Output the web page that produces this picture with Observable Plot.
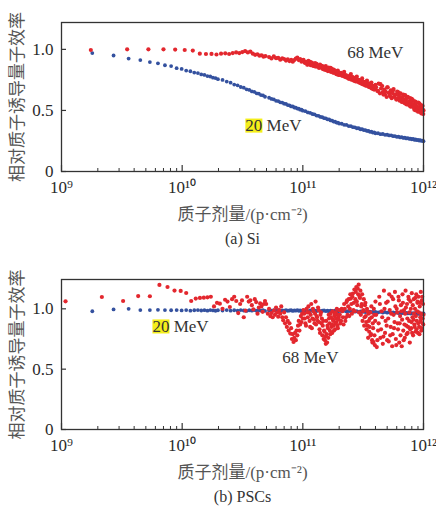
<!DOCTYPE html>
<html><head><meta charset="utf-8">
<script src="https://cdn.jsdelivr.net/npm/d3@7"></script>
<script src="https://cdn.jsdelivr.net/npm/@observablehq/plot@0.6"></script>
<style>
html,body{margin:0;padding:0;background:#fff;}
#chart{width:436px;height:510px;position:relative;overflow:hidden;background:#fff;}
#chart svg{display:block;}
</style></head><body><div id="chart"></div>
<script>
// ---- tick labels & texts ----
const xTicks = [1e9, 1e10, 1e11, 1e12];
const xTickLabels = ["10⁹", "10¹⁰", "10¹¹", "10¹²"];
const yTicks = [0, 0.5, 1];
const yTickLabels = ["0", "0.5", "1.0"];
const seriesNames = ["68 MeV", "20 MeV"];
const yTitle = "相对质子诱导量子效率";
const xTitle = "质子剂量/(p·cm⁻²)";
const captions = ["(a) Si", "(b) PSCs"];

// label anchors (dose, efficiency) for "68 MeV", "20 MeV"
const siLabelDose = [2.33e11, 3.34e10], siLabelEff = [0.971, 0.377];
const pscLabelDose = [6.75e10, 5.67e9], pscLabelEff = [0.598, 0.855];

// ---- doses (×1e9 p/cm²) ----
const denseDose = [52.5,55,57.5,60,62.5,65,67.5,70,72.5,75,77.5,80,82.5,85,87.5,90,92.5,95,97.5,100,
105,110,115,120,125,130,135,140,145,150,155,160,165,170,175,180,185,190,195,200,
210,220,230,240,250,260,270,280,290,300,310,320,330,340,350,360,370,380,390,400,
420,440,460,480,500,520,540,560,580,600,620,640,660,680,700,720,740,760,780,800,
820,840,860,880,900,920,940,960,980,1000];
const denseDose2 = [101.25,103.75,106.25,108.75,111.25,113.75,116.25,118.75,121.25,123.75,126.25,128.75,131.25,133.75,136.25,138.75,141.25,143.75,146.25,148.75,
151.25,153.75,156.25,158.75,161.25,163.75,166.25,168.75,171.25,173.75,176.25,178.75,181.25,183.75,186.25,188.75,191.25,193.75,196.25,198.75,
202.5,207.5,212.5,217.5,222.5,227.5,232.5,237.5,242.5,247.5,252.5,257.5,262.5,267.5,272.5,277.5,282.5,287.5,292.5,297.5,
302.5,307.5,312.5,317.5,322.5,327.5,332.5,337.5,342.5,347.5,352.5,357.5,362.5,367.5,372.5,377.5,382.5,387.5,392.5,397.5,
405,415,425,435,445,455,465,475,485,495,505,515,525,535,545,555,565,575,585,595,
605,615,625,635,645,655,665,675,685,695,705,715,725,735,745,755,765,775,785,795,
805,815,825,835,845,855,865,875,885,895,905,915,925,935,945,955,965,975,985,995];
const dose20 = [1.8,2.7,3.6,4.5,5.4,6.3,7.2,8.1,9,9.9,10.8,11.7,12.6,13.5,14.4,15.3,16.2,17.1,18,18.9,19.8,
21.6,23.4,25.2,27,28.8,30.6,32.4,34.2,36,37.8,39.6,41.4,43.2,45,46.8,48.6];
const doseSi68 = [1.75,3.5,5.25,7,8.75,10.5,12.25,14,15.75,17.5,19.25,21,22.75,24.5,26.25,28,29.75,31.5,33.25,35,
36.75,38.5,40.25,42,43.75,45.5,47.25,49];
const dosePsc68 = [1.08,2.16,3.24,4.32,5.4,6.48,7.56,8.64,9.72,10.8,11.88,12.96,14.04,15.12,16.2,17.28,18.36,19.44,
20.52,21.6,22.68,23.76,24.84,25.92,27,28.08,29.16,30.24,31.32,32.4,33.48,34.56,35.64,36.72,37.8,38.88,39.96,
41.04,42.12,43.2,44.28,45.36,46.44,47.52,48.6,49.68];
const dosePsc68Dense = [51.25,52.5,53.75,55,56.25,57.5,58.75,60,61.25,62.5,63.75,65,66.25,67.5,68.75,70,71.25,72.5,73.75,75,
76.25,77.5,78.75,80,81.25,82.5,83.75,85,86.25,87.5,88.75,90,91.25,92.5,93.75,95,96.25,97.5,98.75,100,
102.5,105,107.5,110,112.5,115,117.5,120,122.5,125,127.5,130,132.5,135,137.5,140,142.5,145,147.5,150,
152.5,155,157.5,160,162.5,165,167.5,170,172.5,175,177.5,180,182.5,185,187.5,190,192.5,195,197.5,200,
205,210,215,220,225,230,235,240,245,250,255,260,265,270,275,280,285,290,295,300,
305,310,315,320,325,330,335,340,345,350,355,360,365,370,375,380,385,390,395,400,
410,420,430,440,450,460,470,480,490,500,510,520,530,540,550,560,570,580,590,600,
610,620,630,640,650,660,670,680,690,700,710,720,730,740,750,760,770,780,790,800,
810,820,830,840,850,860,870,880,890,900,910,920,930,940,950,960,970,980,990,1000];

// ---- (a) Si ----
const si20 = [0.97,0.95,0.925,0.912,0.896,0.886,0.87,0.863,0.846,0.84,0.826,0.821,0.81,0.806,0.795,0.791,0.781,0.778,0.768,0.765,0.756,
0.75,0.736,0.727,0.712,0.706,0.692,0.686,0.673,0.668,0.656,0.652,0.64,0.637,0.626,0.623,0.612];
const si20Dense = [0.604,0.594,0.59,0.579,0.577,0.566,0.564,0.555,0.553,0.544,0.542,0.533,0.533,0.524,0.523,0.515,0.514,0.506,0.506,0.498,
0.494,0.484,0.48,0.471,0.467,0.458,0.456,0.447,0.445,0.437,0.435,0.427,0.426,0.418,0.417,0.409,0.408,0.401,0.4,0.393,
0.391,0.382,0.381,0.372,0.371,0.363,0.362,0.354,0.354,0.346,0.346,0.339,0.339,0.332,0.332,0.325,0.326,0.319,0.32,0.313,
0.313,0.306,0.307,0.3,0.301,0.295,0.296,0.289,0.29,0.284,0.285,0.279,0.281,0.275,0.277,0.271,0.273,0.268,0.269,0.264,
0.266,0.26,0.262,0.257,0.259,0.254,0.256,0.251,0.253,0.248];
const si68 = [0.995,1.0,1.0,1.0,0.998,0.995,0.99,0.965,0.962,0.963,0.958,0.965,0.968,0.962,0.97,0.975,0.97,0.978,0.985,0.975,
0.982,0.965,0.955,0.96,0.948,0.952,0.94,0.945];
const si68Dense = [0.937,0.926,0.942,0.928,0.93,0.916,0.927,0.921,0.908,0.918,0.904,0.915,0.899,0.912,0.924,0.932,0.912,0.921,0.899,0.91,
0.892,0.876,0.897,0.88,0.862,0.881,0.858,0.868,0.852,0.835,0.862,0.838,0.826,0.848,0.818,0.835,0.812,0.798,0.826,0.806,
0.79,0.815,0.772,0.76,0.798,0.77,0.742,0.778,0.75,0.728,0.762,0.735,0.705,0.745,0.722,0.695,0.728,0.70,0.672,0.71,
0.66,0.715,0.65,0.63,0.688,0.64,0.61,0.665,0.628,0.59,0.648,0.6,0.572,0.63,0.585,0.55,0.612,0.57,0.532,0.595,
0.548,0.505,0.57,0.52,0.49,0.558,0.505,0.475,0.54,0.50];
const si68Dense2 = [0.915,0.89,0.898,0.875,0.905,0.882,0.87,0.892,0.865,0.878,0.887,0.858,0.872,0.862,0.848,0.875,0.852,0.866,0.84,0.858,
0.835,0.852,0.83,0.845,0.822,0.85,0.826,0.838,0.815,0.84,0.82,0.808,0.83,0.812,0.822,0.8,0.818,0.795,0.812,0.79,
0.79,0.808,0.782,0.8,0.775,0.79,0.768,0.782,0.76,0.778,0.752,0.772,0.745,0.765,0.738,0.76,0.735,0.75,0.728,0.745,
0.722,0.74,0.715,0.735,0.71,0.728,0.705,0.722,0.7,0.718,0.692,0.712,0.688,0.705,0.68,0.702,0.675,0.698,0.672,0.69,
0.69,0.66,0.72,0.64,0.68,0.70,0.63,0.67,0.655,0.61,0.69,0.645,0.62,0.665,0.6,0.64,0.675,0.61,0.63,0.59,
0.655,0.6,0.625,0.58,0.64,0.6,0.57,0.615,0.59,0.56,0.625,0.575,0.6,0.55,0.605,0.57,0.54,0.6,0.555,0.575,
0.53,0.585,0.55,0.52,0.575,0.54,0.5,0.56,0.53,0.51,0.565,0.525,0.49,0.55,0.515,0.54,0.48,0.535,0.505,0.47];

// ---- (b) PSCs ----
const psc20 = [0.98,0.995,1.0,0.99,0.99,0.992,0.99,0.988,0.99,0.987,0.99,0.985,0.988,0.99,0.986,0.989,0.985,0.99,0.987,0.984,0.988,
0.986,0.99,0.985,0.988,0.984,0.99,0.986,0.983,0.988,0.985,0.99,0.984,0.987,0.985,0.988,0.983];
const psc20Dense = [0.987,0.984,0.989,0.985,0.988,0.983,0.987,0.985,0.99,0.984,0.986,0.988,0.983,0.987,0.985,0.989,0.984,0.986,0.982,0.987,
0.985,0.981,0.986,0.983,0.987,0.982,0.985,0.98,0.984,0.986,0.981,0.984,0.98,0.985,0.982,0.979,0.984,0.981,0.978,0.983,
0.979,0.984,0.978,0.982,0.977,0.981,0.976,0.98,0.975,0.979,0.974,0.978,0.973,0.977,0.972,0.976,0.971,0.975,0.97,0.974,
0.97,0.974,0.969,0.973,0.968,0.972,0.967,0.971,0.966,0.97,0.965,0.969,0.964,0.968,0.963,0.967,0.962,0.966,0.961,0.965,
0.96,0.964,0.959,0.963,0.958,0.962,0.957,0.961,0.96,0.962];
const psc68 = [1.062,1.098,1.065,1.106,1.104,1.198,1.181,1.151,1.148,1.131,1.065,1.085,1.09,1.092,1.095,1.1,1.02,1.05,
1.043,1.0,1.075,1.06,1.015,1.08,1.10,1.065,0.965,1.04,1.07,0.93,0.985,1.10,1.06,1.07,1.03,0.995,1.08,
1.056,0.96,1.01,1.045,1.02,0.975,1.04,1.065,1.04];
const psc68Dense = [0.96,1.0,0.94,0.965,0.93,0.985,0.95,1.01,0.97,0.935,0.99,0.96,1.02,0.93,0.905,0.97,0.88,0.93,0.85,0.9,
0.82,0.88,0.795,0.84,0.75,0.79,0.725,0.76,0.80,0.74,0.82,0.78,0.86,0.9,0.82,0.87,0.94,0.89,0.96,0.92,
0.96,0.88,1.0,0.93,0.97,0.85,1.04,0.92,0.98,0.88,1.06,0.94,0.90,0.99,0.83,0.95,0.88,0.78,0.9,0.82,
0.74,0.71,0.79,0.86,0.76,0.92,0.82,0.96,0.85,0.80,0.91,0.86,0.94,0.83,0.97,0.89,0.95,0.84,0.93,0.99,
0.88,1.0,0.93,1.04,0.9,1.056,0.95,1.08,1.0,1.085,0.96,1.126,1.05,0.98,1.14,1.06,1.168,1.2,1.1,1.15,
1.02,1.12,0.98,1.08,0.93,1.05,0.89,1.0,0.86,0.96,0.81,0.92,0.78,1.02,0.74,0.88,0.725,0.95,0.70,1.06,
0.683,0.82,1.1,0.76,0.98,0.71,1.15,0.8,1.05,0.74,0.92,1.12,0.78,0.96,0.69,1.08,0.84,1.14,0.75,1.0,
0.88,1.1,0.72,0.94,1.03,0.69,1.12,0.82,0.99,0.76,1.15,0.86,1.04,0.8,1.1,0.9,0.72,1.06,0.84,1.13,
0.93,0.78,1.08,0.87,1.0,0.81,1.12,0.9,1.05,0.8,1.1,0.85,1.02,0.93,1.14,0.82,1.07,0.88,1.04,0.95];
const psc68Dense2 = [0.99,0.92,0.86,0.97,1.02,0.9,0.95,0.84,1.0,0.91,0.96,0.87,0.93,1.01,0.89,0.8,0.97,0.92,0.86,0.75,
0.81,0.77,0.9,0.72,0.84,0.95,0.88,0.79,0.93,0.87,0.98,0.9,0.82,0.96,0.88,0.92,1.0,0.86,0.95,0.91,
0.95,0.9,0.98,0.87,1.0,0.93,1.07,1.02,0.94,1.12,1.04,1.1,0.99,1.16,1.08,1.18,1.03,1.12,0.97,1.09,
0.95,1.04,0.9,0.99,0.86,1.03,0.94,0.83,0.98,0.76,0.9,0.85,0.97,0.79,0.93,0.72,0.84,1.0,0.78,0.9,
0.95,0.74,0.88,1.04,0.83,0.93,0.77,1.0,0.9,0.86,1.06,0.73,0.99,0.85,1.1,0.79,0.95,0.89,1.02,0.7,
0.97,0.83,1.07,0.88,0.78,0.98,0.91,1.05,0.74,0.87,0.96,1.01,0.79,0.92,0.85,1.08,0.97,0.83,1.0,0.89,
0.8,1.03,0.91,0.96,0.85,1.09,0.94,0.83,0.98,1.06,0.88,0.97,0.79,1.05,0.9,0.96,0.84,1.1,0.92,0.87];

const RED = "#e3272e", BLUE = "#34519f";
const SERIF = "'Liberation Serif', 'Times New Roman', serif";
const CJK = "'Liberation Serif', 'Noto Sans CJK SC', sans-serif";

function rows(doses, vals) { return doses.map((d, i) => ({dose: d * 1e9, eff: vals[i]})); }
function labelRows(doses, effs) { return seriesNames.map((n, i) => ({name: n, dose: doses[i], eff: effs[i]})); }

function panel({height, marginTop, marginBottom, yMax, blue, red, labels, caption}) {
  const W = 436, ML = 61, MR = 13;
  const frameH = height - marginTop - marginBottom;
  const frameW = W - ML - MR;
  const minor = [];
  for (const e of [1e9, 1e10, 1e11]) for (let k = 2; k < 10; k++) minor.push(k * e);
  return Plot.plot({
    width: W, height, marginLeft: ML, marginRight: MR, marginTop, marginBottom,
    style: {fontFamily: SERIF, fontSize: "17px", color: "#2a2a2a", background: "#fff", overflow: "visible"},
    x: {type: "log", domain: [1e9, 1e12]},
    y: {domain: [0, yMax]},
    marks: [
      Plot.dot(blue, {x: "dose", y: "eff", r: 1.9, fill: BLUE}),
      Plot.dot(red, {x: "dose", y: "eff", r: 2.1, fill: RED}),
      Plot.frame({stroke: "#333", strokeWidth: 1.3}),
      Plot.tickX(xTicks, {x: d => d, insetTop: frameH - 6, stroke: "#333", strokeWidth: 1.2}),
      Plot.tickX(minor, {x: d => d, insetTop: frameH - 3, stroke: "#333"}),
      Plot.tickY(yTicks, {y: d => d, insetRight: frameW - 5, stroke: "#333", strokeWidth: 1.2}),
      Plot.axisX(xTicks, {tickSize: 0, tickPadding: 9, label: null, tickFormat: d => xTickLabels[xTicks.indexOf(d)]}),
      Plot.axisY(yTicks, {tickSize: 0, tickPadding: 8, label: null, tickFormat: d => yTickLabels[yTicks.indexOf(d)]}),
      Plot.text([yTitle], {frameAnchor: "left", textAnchor: "middle", lineAnchor: "middle", rotate: -90, dx: -44, fontFamily: CJK, fill: "#555", fontSize: 17}),
      Plot.text([xTitle], {frameAnchor: "bottom", lineAnchor: "middle", dy: 43, fontFamily: CJK, fill: "#555", fontSize: 17}),
      Plot.text([caption], {frameAnchor: "bottom", lineAnchor: "middle", dy: 67, fill: "#333", fontSize: 16}),
      Plot.text(labels, {x: "dose", y: "eff", text: "name", textAnchor: "start", fill: "#333", fontSize: 17})
    ]
  });
}

function highlight(svg) {
  svg.querySelectorAll("text").forEach(t => {
    if (t.textContent === seriesNames[1]) {
      const a = t.getExtentOfChar(0), b = t.getExtentOfChar(1);
      const r = document.createElementNS("http://www.w3.org/2000/svg", "rect");
      r.setAttribute("x", a.x);
      r.setAttribute("y", a.y + a.height * 0.14);
      r.setAttribute("width", b.x + b.width - a.x);
      r.setAttribute("height", a.height * 0.74);
      r.setAttribute("fill", "#f4ee1a");
      const tr = t.getAttribute("transform");
      if (tr) r.setAttribute("transform", tr);
      t.parentNode.insertBefore(r, t);
    }
  });
}

const root = document.getElementById("chart");
const top1 = panel({
  height: 255, marginTop: 22, marginBottom: 84, yMax: 1.22,
  blue: rows(dose20, si20).concat(rows(denseDose, si20Dense)),
  red: rows(doseSi68, si68).concat(rows(denseDose, si68Dense), rows(denseDose2, si68Dense2)),
  labels: labelRows(siLabelDose, siLabelEff), caption: captions[0]
});
const bot1 = panel({
  height: 255, marginTop: 24, marginBottom: 81, yMax: 1.243,
  blue: rows(dose20, psc20).concat(rows(denseDose, psc20Dense)),
  red: rows(dosePsc68, psc68).concat(rows(dosePsc68Dense, psc68Dense), rows(denseDose2, psc68Dense2)),
  labels: labelRows(pscLabelDose, pscLabelEff), caption: captions[1]
});
root.appendChild(top1);
root.appendChild(bot1);
highlight(top1);
highlight(bot1);
</script>
</body></html>
